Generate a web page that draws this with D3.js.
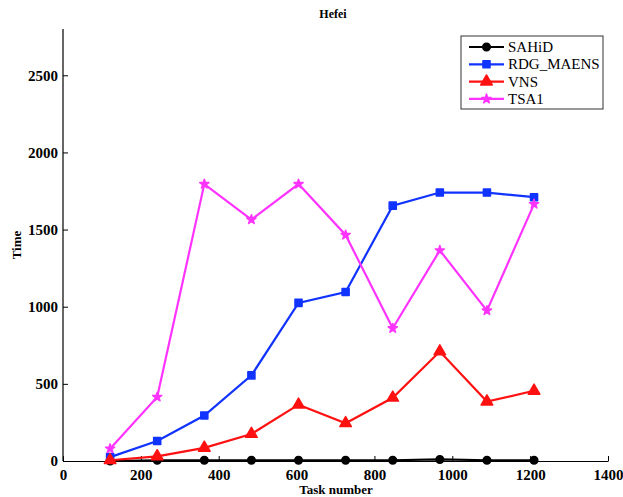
<html>
<head>
<style>
body { margin: 0; background: #fff; }
</style>
<script src="https://d3js.org/d3.v7.min.js"></script>
</head>
<body>
<div id="chart"></div>
<script>
// data
var tasks = [121, 242, 363, 484, 605, 726, 847, 968, 1089, 1210];
var sahid = [0, 5, 5, 5, 5, 5, 5, 10, 5, 5];
var rdg = [25, 130, 295, 555, 1025, 1095, 1655, 1740, 1740, 1710];
var vns = [5, 30, 85, 175, 365, 245, 410, 710, 385, 455];
var tsa1 = [80, 415, 1795, 1565, 1795, 1465, 860, 1365, 975, 1665];
var names = ["SAHiD", "RDG_MAENS", "VNS", "TSA1"];
var xTicks = [0, 200, 400, 600, 800, 1000, 1200, 1400];
var yTicks = [0, 500, 1000, 1500, 2000, 2500];

var width = 623, height = 497;
var margin = {top: 29, right: 15, bottom: 36, left: 63};
var serif = "'Liberation Serif', 'DejaVu Serif', serif";

var svg = d3.select("#chart").append("svg")
    .attr("width", width)
    .attr("height", height)
    .style("font-family", serif);

var x = d3.scaleLinear().domain([0, 1400]).range([margin.left, width - margin.right]);
var y = d3.scaleLinear().domain([0, 2800]).range([height - margin.bottom, margin.top]);

// axes, ticks pointing inward
var xAxis = svg.append("g")
    .attr("transform", "translate(0," + y(0) + ")")
    .call(d3.axisBottom(x).tickValues(xTicks).tickFormat(d3.format("d"))
      .tickSizeInner(-5).tickSizeOuter(0).tickPadding(8));
var yAxis = svg.append("g")
    .attr("transform", "translate(" + x(0) + ",0)")
    .call(d3.axisLeft(y).tickValues(yTicks).tickFormat(d3.format("d"))
      .tickSizeInner(-5).tickSizeOuter(0).tickPadding(5));

[xAxis, yAxis].forEach(function(g) {
  g.attr("font-family", null);
  g.select(".domain").attr("stroke", "#000").attr("stroke-width", 1.2);
  g.selectAll(".tick line").attr("stroke", "#000");
  g.selectAll("text")
      .style("font-family", serif)
      .style("font-size", "15px")
      .style("font-weight", "bold")
      .attr("fill", "#000");
});
yAxis.select(".domain").attr("d", "M0," + y(0) + "V" + y(2800));

// titles
svg.append("text")
    .attr("x", 333).attr("y", 18)
    .attr("text-anchor", "middle")
    .attr("font-size", "12px").attr("font-weight", "bold")
    .text("Hefei");
svg.append("text")
    .attr("x", 336).attr("y", 494)
    .attr("text-anchor", "middle")
    .attr("font-size", "13px").attr("font-weight", "bold")
    .text("Task number");
svg.append("text")
    .attr("transform", "translate(21,245) rotate(-90)")
    .attr("text-anchor", "middle")
    .attr("font-size", "13px").attr("font-weight", "bold")
    .text("Time");

var series = [
  {name: names[0], values: sahid, color: "#000000", symbol: d3.symbolCircle, size: 45},
  {name: names[1], values: rdg, color: "#1133ff", symbol: d3.symbolSquare, size: 50},
  {name: names[2], values: vns, color: "#ff1111", symbol: d3.symbolTriangle, size: 58},
  {name: names[3], values: tsa1, color: "#ff33ff", symbol: d3.symbolStar, size: 26}
];

var line = d3.line()
    .x(function(d, i) { return x(tasks[i]); })
    .y(function(d) { return y(d); });

series.forEach(function(s) {
  svg.append("path")
      .datum(s.values)
      .attr("fill", "none")
      .attr("stroke", s.color)
      .attr("stroke-width", 2.2)
      .attr("d", line);
  svg.selectAll(null)
      .data(s.values)
      .enter()
      .append("path")
      .attr("d", d3.symbol().type(s.symbol).size(s.size))
      .attr("fill", s.color)
      .attr("stroke", s.color)
      .attr("stroke-width", 1.5)
      .attr("stroke-linejoin", "round")
      .attr("transform", function(d, i) { return "translate(" + x(tasks[i]) + "," + y(d) + ")"; });
});

// legend
var legend = svg.append("g").attr("transform", "translate(461,36)");
legend.append("rect")
    .attr("width", 142).attr("height", 73)
    .attr("fill", "#fff").attr("stroke", "#333").attr("stroke-width", 1);
series.forEach(function(s, i) {
  var yy = 11 + i * 17.3;
  legend.append("line")
      .attr("x1", 8).attr("x2", 43).attr("y1", yy).attr("y2", yy)
      .attr("stroke", s.color).attr("stroke-width", 2.2);
  legend.append("path")
      .attr("d", d3.symbol().type(s.symbol).size(s.size))
      .attr("fill", s.color)
      .attr("stroke", s.color)
      .attr("stroke-width", 1.5)
      .attr("stroke-linejoin", "round")
      .attr("transform", "translate(25.5," + yy + ")");
  legend.append("text")
      .attr("x", 47).attr("y", yy + 5)
      .attr("font-size", "15px")
      .text(s.name);
});
</script>
</body>
</html>
